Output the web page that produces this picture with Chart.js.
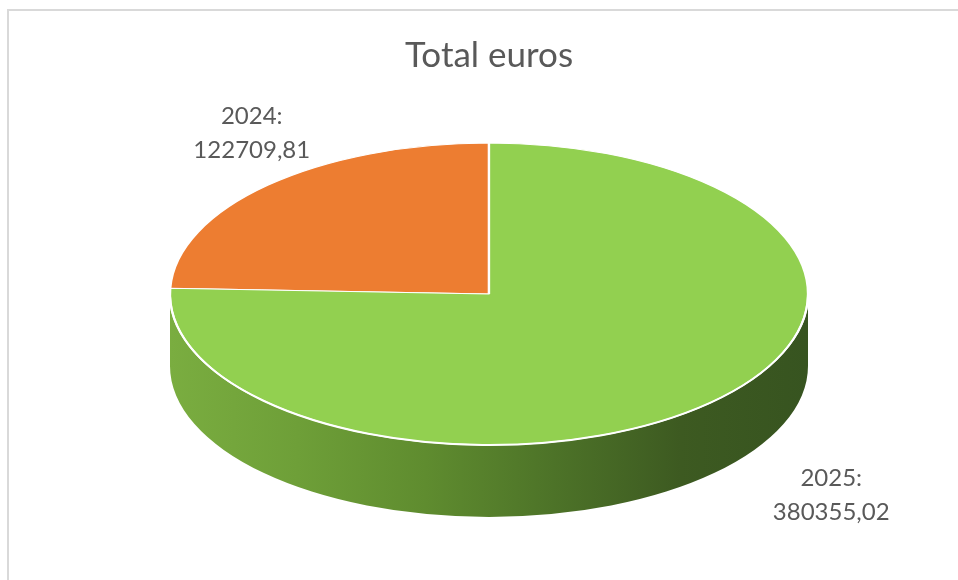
<!DOCTYPE html>
<html>
<head>
<meta charset="utf-8">
<title>Total euros</title>
<script src="https://cdn.jsdelivr.net/npm/chart.js@4.4.1/dist/chart.umd.min.js"></script>
<style>
  body { margin: 0; background: #fff; }
  #wrap { position: relative; width: 958px; height: 580px; overflow: hidden; }
  #frame { position: absolute; left: 7px; top: 9px; width: 1000px; height: 1000px; border: 2px solid #d9d9d9; }
  canvas { position: absolute; left: 0; top: 0; }
</style>
</head>
<body>
<div id="wrap">
  <div id="frame"></div>
  <canvas id="myChart" width="958" height="580"></canvas>
</div>
<script>
const years = ["2024", "2025"];
const euros = [122709.81, 380355.02];
const sliceColors = ["#ed7d31", "#92d050"];
// side wall gradients, left -> right
const sideStops = [
  ["#d8712b", "#c0601f", "#a9521a", "#8f4416"],
  ["#7aad40", "#6e9f38", "#5f8c2f", "#4d7328", "#3d5a21", "#375420"],
];

const total = euros.reduce((a, b) => a + b, 0);
const fmt = (v) => v.toFixed(2).replace(".", ",");

// draws the pie squashed into an ellipse plus the front side wall
const pie3d = {
  id: "pie3d",
  beforeDatasetsDraw(chart, args, opts) {
    const ctx = chart.ctx;
    const arcs = chart.getDatasetMeta(0).data;
    const cx = arcs[0].x, cy = arcs[0].y, R = arcs[0].outerRadius;
    const { rx, ry, depth } = opts;

    arcs.forEach((arc, i) => {
      const grad = ctx.createLinearGradient(cx - rx, 0, cx + rx, 0);
      const stops = sideStops[i];
      stops.forEach((c, k) => grad.addColorStop(k / (stops.length - 1), c));
      for (const shift of [-2 * Math.PI, 0, 2 * Math.PI]) {
        const s = Math.max(arc.startAngle + shift, 0);
        const e = Math.min(arc.endAngle + shift, Math.PI);
        if (e <= s) continue;
        ctx.beginPath();
        ctx.ellipse(cx, cy, rx, ry, 0, s, e);
        ctx.ellipse(cx, cy + depth, rx, ry, 0, e, s, true);
        ctx.closePath();
        ctx.fillStyle = grad;
        ctx.fill();
      }
    });

    ctx.save();
    ctx.translate(cx, cy);
    ctx.scale(rx / R, ry / R);
    ctx.translate(-cx, -cy);
  },
  afterDatasetsDraw(chart, args, opts) {
    const ctx = chart.ctx;
    ctx.restore();
    const arc = chart.getDatasetMeta(0).data[0];
    ctx.save();
    ctx.beginPath();
    ctx.ellipse(arc.x, arc.y, opts.rx, opts.ry, 0, 0.02, Math.PI - 0.02);
    ctx.strokeStyle = "#ffffff";
    ctx.lineWidth = 2;
    ctx.stroke();
    ctx.restore();
  },
  afterDraw(chart, args, opts) {
    const ctx = chart.ctx;
    const arcs = chart.getDatasetMeta(0).data;
    ctx.save();
    ctx.font = "24px Lato";
    ctx.fillStyle = "#595959";
    ctx.textAlign = "center";
    ctx.textBaseline = "middle";
    arcs.forEach((arc, i) => {
      const mid = (arc.startAngle + arc.endAngle) / 2;
      let x = arc.x + opts.rx * Math.cos(mid);
      let y = arc.y + opts.ry * Math.sin(mid);
      if (Math.sin(mid) > 0) y += opts.depth;
      const [dx, dy] = opts.labelShift[i];
      const lines = [years[i] + ":", fmt(euros[i])];
      lines.forEach((t, k) => {
        ctx.fillText(t, x + dx, y + dy + (k - (lines.length - 1) / 2) * 34);
      });
    });
    ctx.restore();
  },
};

const ctx = document.getElementById("myChart").getContext("2d");
const myChart = new Chart(ctx, {
  type: "pie",
  data: {
    labels: years,
    datasets: [
      {
        data: euros,
        backgroundColor: sliceColors,
        borderColor: "#ffffff",
        borderWidth: 1.5,
        clip: false,
      },
    ],
  },
  options: {
    responsive: false,
    animation: false,
    rotation: (-360 * euros[0]) / total,
    layout: { padding: { top: 10, bottom: 79, left: 20, right: 0 } },
    plugins: {
      legend: { display: false },
      tooltip: { enabled: false },
      title: {
        display: true,
        text: "Total euros",
        color: "#595959",
        font: { family: "Lato", size: 35, weight: "normal" },
        padding: { top: 25, bottom: 10 },
      },
      pie3d: {
        rx: 319,
        ry: 151,
        depth: 72,
        labelShift: [
          [-16, -52],
          [121, 20],
        ],
      },
    },
  },
  plugins: [pie3d],
});
</script>
</body>
</html>
